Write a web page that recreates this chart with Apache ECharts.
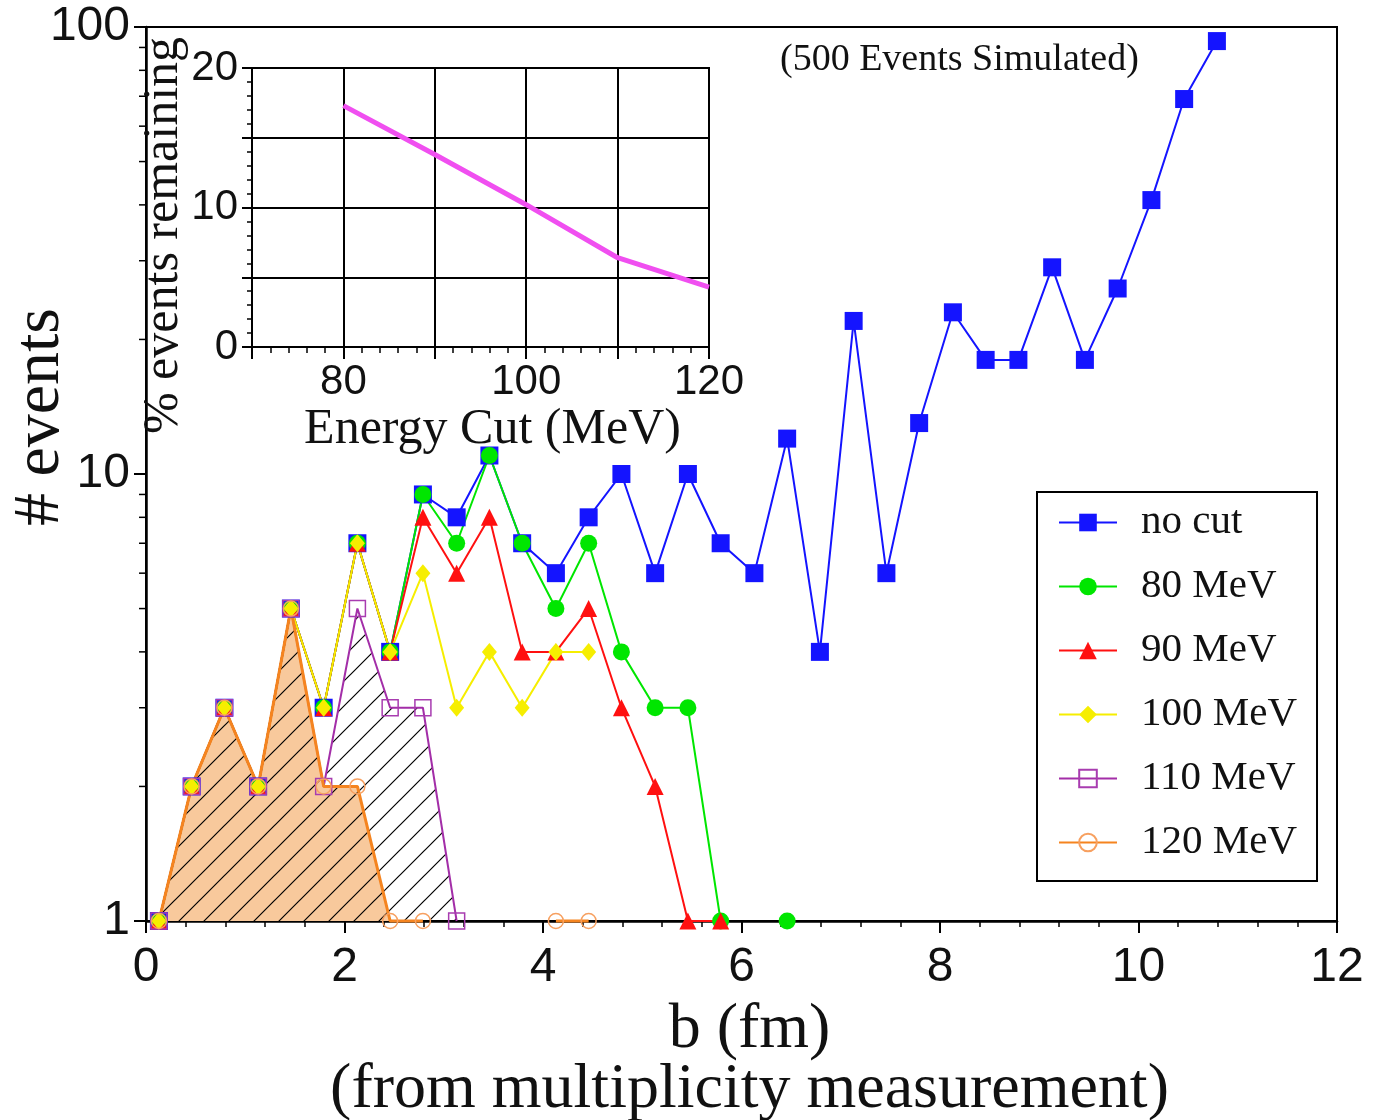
<!DOCTYPE html>
<html>
<head>
<meta charset="utf-8">
<script src="https://cdn.jsdelivr.net/npm/echarts@6/dist/echarts.min.js"></script>
<style>
  html, body { margin: 0; padding: 0; background: #fff; }
  #chart { width: 1385px; height: 1120px; }
</style>
</head>
<body>
<div id="chart"></div>
<script>
// Impact parameter bin centres (fm)
const impactB = [0.13, 0.46, 0.79, 1.13, 1.46, 1.79, 2.13, 2.46, 2.79, 3.13, 3.46,
                 3.79, 4.13, 4.46, 4.79, 5.13, 5.46, 5.79, 6.13, 6.46, 6.79, 7.13,
                 7.46, 7.79, 8.13, 8.46, 8.79, 9.13, 9.46, 9.79, 10.13, 10.46, 10.79];

// Event counts per bin for each photon-energy cut (null = no events)
const noCut  = [1, 2, 3, 2, 5, 3, 7, 4, 9, 8, 11, 7, 6, 8, 10, 6, 10, 7, 6, 12, 4, 22,
                6, 13, 23, 18, 18, 29, 18, 26, 41, 69, 93];
const mev80  = [1, 2, 3, 2, 5, 3, 7, 4, 9, 7, 11, 7, 5, 7, 4, 3, 3, 1, null, 1];
const mev90  = [1, 2, 3, 2, 5, 3, 7, 4, 8, 6, 8, 4, 4, 5, 3, 2, 1, 1];
const mev100 = [1, 2, 3, 2, 5, 3, 7, 4, 6, 3, 4, 3, 4, 4];
const mev110 = [1, 2, 3, 2, 5, 2, 5, 3, 3, 1];
const mev120 = [1, 2, 3, 2, 5, 2, 2, 1, 1, null, null, null, 1, 1];

// Inset: fraction of events surviving each cut
const cutEnergy    = [80, 90, 100, 110, 120];
const pctRemaining = [17.3, 13.8, 10.2, 6.4, 4.3];

// Tick values
const mainXTicks   = [0, 2, 4, 6, 8, 10, 12];
const logMinorTicks = [2, 3, 4, 5, 6, 7, 8, 9, 20, 30, 40, 50, 60, 70, 80, 90];
const insetXLabels = [80, 100, 120];
const insetYLabels = [0, 10, 20];

const SERIF = '"Liberation Serif", "DejaVu Serif", serif';
const SANS = '"Liberation Sans", Arial, sans-serif';

function pairs(vals) {
  return vals.map((v, i) => [impactB[i], v]);
}

// Diagonal hatch tile used to fill the 110 MeV region
function hatchTile() {
  const s = 25;
  const c = document.createElement('canvas');
  c.width = s; c.height = s;
  const g = c.getContext('2d');
  g.strokeStyle = '#000';
  g.lineWidth = 1.2;
  g.beginPath();
  g.moveTo(0, s); g.lineTo(s, 0);
  g.moveTo(-3, 3); g.lineTo(3, -3);
  g.moveTo(s - 3, s + 3); g.lineTo(s + 3, s - 3);
  g.stroke();
  return c;
}

function countSeries(name, vals, color, symbol, size, itemStyle, lineWidth) {
  return {
    name: name,
    type: 'line',
    xAxisIndex: 0,
    yAxisIndex: 0,
    data: pairs(vals),
    symbol: symbol,
    symbolSize: size,
    showAllSymbol: true,
    connectNulls: false,
    clip: false,
    z: 3,
    lineStyle: { color: color, width: lineWidth || 2 },
    itemStyle: itemStyle || { color: color },
    emphasis: { disabled: true }
  };
}

const chart = echarts.init(document.getElementById('chart'), null, { renderer: 'canvas' });

const option = {
  animation: false,
  backgroundColor: '#fff',
  title: {
    text: '(500 Events Simulated)',
    left: 780,
    top: 41,
    padding: 0,
    textStyle: { fontFamily: SERIF, fontSize: 38, fontWeight: 'normal', color: '#111' }
  },
  legend: {
    data: ['no cut', '80 MeV', '90 MeV', '100 MeV', '110 MeV', '120 MeV'],
    orient: 'vertical',
    left: 1037,
    top: 492,
    padding: [10, 20, 18, 21],
    itemGap: 23,
    itemWidth: 58,
    itemHeight: 22,
    borderColor: '#000',
    borderWidth: 2,
    backgroundColor: '#fff',
    selectedMode: false,
    textStyle: { fontFamily: SERIF, fontSize: 41, lineHeight: 41, color: '#111', padding: [0, 0, 0, 19] }
  },
  grid: [
    { left: 146, top: 27, width: 1191, height: 894, show: true, borderColor: '#000', borderWidth: 2,
      backgroundColor: 'transparent', containLabel: false, outerBoundsMode: 'none' },
    { left: 252, top: 68, width: 457, height: 279, show: true, borderColor: '#000', borderWidth: 2,
      backgroundColor: 'transparent', containLabel: false, outerBoundsMode: 'none' }
  ],
  xAxis: [
    {
      type: 'value', gridIndex: 0,
      min: mainXTicks[0], max: mainXTicks[mainXTicks.length - 1], interval: 2,
      axisLine: { onZero: false, lineStyle: { color: '#000', width: 2.5 } },
      axisTick: { inside: false, length: 12, lineStyle: { color: '#000', width: 2 } },
      minorTick: { show: true, splitNumber: 5, length: 6, lineStyle: { color: '#000', width: 1.5 } },
      splitLine: { show: false },
      axisLabel: { fontFamily: SANS, fontSize: 48, color: '#111', margin: 23 },
      name: 'b (fm)\n(from multiplicity measurement)',
      nameLocation: 'middle',
      nameGap: 79,
      nameMoveOverlap: false,
      nameTextStyle: { fontFamily: SERIF, fontSize: 64, lineHeight: 60, color: '#111', padding: [0, 0, 0, 16] }
    },
    {
      type: 'value', gridIndex: 1,
      min: 70, max: 120, interval: 10,
      axisLine: { onZero: false, lineStyle: { color: '#000', width: 2 } },
      axisTick: { inside: false, length: 12, lineStyle: { color: '#000', width: 2 } },
      minorTick: { show: true, splitNumber: 5, length: 6, lineStyle: { color: '#000', width: 1.5 } },
      splitLine: { show: true, lineStyle: { color: '#000', width: 2 } },
      axisLabel: {
        fontFamily: SANS, fontSize: 42, color: '#111', margin: 14,
        formatter: v => (insetXLabels.indexOf(v) >= 0 ? String(v) : '')
      },
      name: 'Energy Cut (MeV)',
      nameLocation: 'middle',
      nameGap: 58,
      nameMoveOverlap: false,
      nameTextStyle: { fontFamily: SERIF, fontSize: 50, color: '#111', padding: [0, 0, 0, 24] }
    }
  ],
  yAxis: [
    {
      type: 'log', logBase: 10, gridIndex: 0,
      min: 1, max: 100,
      axisLine: { onZero: false, lineStyle: { color: '#000', width: 2.5 } },
      axisTick: { inside: false, length: 12, lineStyle: { color: '#000', width: 2 } },
      splitLine: { show: false },
      axisLabel: { fontFamily: SANS, fontSize: 48, color: '#111', margin: 16 },
      name: '# events',
      nameLocation: 'middle',
      nameRotate: 90,
      nameGap: 72,
      nameMoveOverlap: false,
      nameTextStyle: { fontFamily: SERIF, fontSize: 66, color: '#111', padding: [0, 0, 0, 114] }
    },
    {
      type: 'value', gridIndex: 1,
      min: 0, max: 20, interval: 5,
      axisLine: { onZero: false, lineStyle: { color: '#000', width: 2 } },
      axisTick: { inside: false, length: 10, lineStyle: { color: '#000', width: 2 } },
      minorTick: { show: true, splitNumber: 5, length: 5, lineStyle: { color: '#000', width: 1.5 } },
      splitLine: { show: true, lineStyle: { color: '#000', width: 2 } },
      axisLabel: {
        fontFamily: SANS, fontSize: 42, color: '#111', margin: 14,
        formatter: v => (insetYLabels.indexOf(v) >= 0 ? String(v) : '')
      },
      name: '% events remaining',
      nameLocation: 'middle',
      nameRotate: 90,
      nameGap: 63,
      nameMoveOverlap: false,
      nameTextStyle: { fontFamily: SERIF, fontSize: 50, color: '#111', padding: [0, 56, 0, 0] }
    }
  ],
  series: [
    // Minor ticks of the logarithmic count axis
    {
      type: 'custom',
      xAxisIndex: 0, yAxisIndex: 0,
      silent: true, clip: false, z: 4,
      data: logMinorTicks.map(v => [0, v]),
      renderItem: function (params, api) {
        const p = api.coord([api.value(0), api.value(1)]);
        return {
          type: 'line',
          shape: { x1: p[0] - 7, y1: p[1], x2: p[0], y2: p[1] },
          style: { stroke: '#000', lineWidth: 1.5 }
        };
      }
    },
    // Shaded region under the 120 MeV curve
    {
      name: 'fill120', type: 'line', xAxisIndex: 0, yAxisIndex: 0,
      data: pairs(mev120), symbol: 'none', silent: true, z: 1,
      lineStyle: { width: 0, opacity: 0 },
      areaStyle: { color: '#f8c99c', opacity: 1, origin: 'start' }
    },
    // Hatched region under the 110 MeV curve
    {
      name: 'hatch110', type: 'line', xAxisIndex: 0, yAxisIndex: 0,
      data: pairs(mev110), symbol: 'none', silent: true, z: 1,
      lineStyle: { width: 0, opacity: 0 },
      areaStyle: { color: { image: hatchTile(), repeat: 'repeat' }, opacity: 1, origin: 'start' }
    },
    countSeries('no cut', noCut, '#1414ff', 'rect', 18),
    countSeries('80 MeV', mev80, '#00e600', 'circle', 17),
    countSeries('90 MeV', mev90, '#ff1010', 'triangle', 17),
    countSeries('100 MeV', mev100, '#f6ee00', 'diamond', [15, 18]),
    countSeries('110 MeV', mev110, '#a32ea8', 'rect', 16,
      { color: 'rgba(0,0,0,0)', borderColor: '#a83cb0', borderWidth: 1.5 }),
    countSeries('120 MeV', mev120, '#f5841f', 'circle', 15,
      { color: 'rgba(0,0,0,0)', borderColor: '#f7a060', borderWidth: 1.5 }, 3),
    // Inset curve
    {
      name: 'remaining', type: 'line', xAxisIndex: 1, yAxisIndex: 1,
      data: cutEnergy.map((e, i) => [e, pctRemaining[i]]),
      symbol: 'none', z: 3,
      lineStyle: { color: '#f04ff0', width: 5 }
    }
  ]
};

chart.setOption(option);
</script>
</body>
</html>
